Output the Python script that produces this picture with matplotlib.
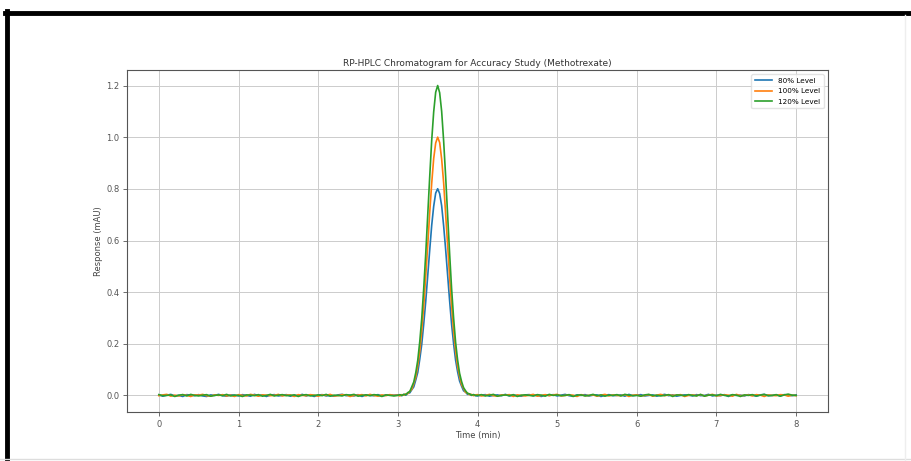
import numpy as np
import matplotlib
matplotlib.use('Agg')
import matplotlib.pyplot as plt
from matplotlib.lines import Line2D

# sampling times (min): 0.05 min on the baseline, 0.025 min across the peak
time_min = np.round(np.concatenate([np.linspace(0, 3, 61),
                                    np.linspace(3.025, 3.975, 39),
                                    np.linspace(4, 8, 81)]), 3)

series_names = ['80% Level', '100% Level', '120% Level']

level_80 = [
    # 0 - 3 min
    0.002, -0.003, 0.001, 0.004, -0.002, 0.000, -0.004, 0.003, 0.001, -0.001,
    0.003, -0.002, -0.004, 0.002, 0.000, 0.004, -0.001, -0.003, 0.002, 0.001,
    -0.002, 0.003, 0.000, -0.003, 0.004, -0.001, 0.002, -0.004, 0.001, 0.003,
    -0.002, 0.000, 0.003, -0.003, 0.001, -0.001, 0.004, -0.002, 0.002, -0.004,
    0.001, 0.003, -0.002, 0.000, -0.003, 0.002, 0.004, -0.001, 0.001, -0.002,
    0.003, -0.004, 0.002, 0.000, -0.001, 0.003, -0.002, 0.001, 0.002, 0.001,
    0.002,
    # peak 3.025 - 3.975 min
    0.002, -0.001, 0.004, 0.001, 0.008, 0.010, 0.022, 0.033, 0.060, 0.089,
    0.140, 0.198, 0.277, 0.364, 0.466, 0.563, 0.659, 0.733, 0.784,
    0.801,
    0.782, 0.735, 0.657, 0.566, 0.464, 0.367, 0.275, 0.201, 0.137, 0.092,
    0.056, 0.036, 0.018, 0.013, 0.004, 0.005, 0.000, 0.003, -0.001,
    # 4 - 8 min
    -0.002, 0.001, 0.003, -0.003, 0.000, 0.002, -0.001, 0.004, -0.002, 0.001,
    0.000, -0.003, 0.002, 0.003, -0.001, 0.001, -0.004, 0.002, 0.000, 0.003,
    -0.002, 0.001, 0.004, -0.001, -0.003, 0.002, 0.000, 0.003, -0.002, 0.001,
    0.002, -0.004, 0.001, 0.003, -0.001, 0.000, 0.002, -0.003, 0.004, -0.001,
    0.001, 0.003, -0.002, 0.000, 0.002, -0.003, 0.001, 0.004, -0.001, 0.002,
    -0.003, 0.000, 0.002, 0.001, -0.002, 0.003, -0.001, 0.000, 0.004, -0.002,
    0.001, -0.001, 0.003, -0.004, 0.002, 0.000, 0.001, -0.002, 0.003, 0.001,
    -0.003, 0.002, 0.004, -0.001, 0.000, 0.002, -0.002, 0.003, 0.001, -0.001,
    0.002,
]

level_100 = [
    # 0 - 3 min
    -0.001, 0.002, 0.004, -0.003, 0.001, -0.002, 0.003, 0.000, -0.004, 0.002,
    0.001, 0.004, -0.001, -0.003, 0.002, 0.000, 0.003, -0.002, 0.001, -0.004,
    0.003, 0.000, -0.002, 0.004, 0.001, -0.003, 0.002, 0.001, -0.001, 0.000,
    0.004, -0.002, 0.001, 0.002, -0.004, 0.003, 0.000, -0.001, 0.003, 0.001,
    -0.003, 0.002, 0.000, 0.004, -0.002, -0.001, 0.003, 0.002, -0.004, 0.000,
    0.001, 0.003, -0.002, 0.004, 0.000, -0.003, 0.002, -0.001, 0.003, 0.000,
    0.001,
    # peak 3.025 - 3.975 min
    -0.002, 0.003, 0.001, 0.006, 0.007, 0.016, 0.024, 0.046, 0.071, 0.116,
    0.170, 0.251, 0.344, 0.459, 0.580, 0.708, 0.822, 0.918, 0.978,
    1.001,
    0.980, 0.916, 0.824, 0.706, 0.582, 0.457, 0.346, 0.248, 0.173, 0.113,
    0.074, 0.042, 0.027, 0.012, 0.009, 0.003, 0.004, -0.001, 0.002,
    # 4 - 8 min
    0.003, -0.002, 0.000, 0.004, -0.001, -0.003, 0.002, 0.001, 0.003, -0.004,
    0.002, 0.000, -0.002, 0.001, 0.004, -0.003, 0.000, 0.003, -0.001, 0.002,
    0.004, -0.002, 0.000, 0.002, 0.001, -0.004, 0.003, -0.001, 0.000, 0.002,
    -0.003, 0.001, 0.004, -0.002, 0.002, 0.000, -0.001, 0.003, -0.004, 0.001,
    0.002, -0.002, 0.000, 0.003, -0.003, 0.001, 0.004, -0.001, 0.002, 0.000,
    0.001, 0.003, -0.004, 0.000, 0.002, -0.001, 0.003, -0.002, 0.001, 0.004,
    -0.002, 0.000, 0.002, 0.001, -0.003, 0.004, -0.001, 0.000, 0.002, -0.002,
    0.003, 0.001, -0.004, 0.002, 0.000, -0.001, 0.003, 0.002, -0.003, 0.001,
    -0.001,
]

level_120 = [
    # 0 - 3 min
    0.003, -0.001, 0.000, 0.002, -0.004, 0.001, 0.003, -0.002, 0.004, 0.000,
    -0.002, 0.001, 0.003, -0.003, 0.000, 0.002, -0.001, 0.004, -0.002, 0.001,
    0.000, -0.004, 0.002, 0.001, -0.001, 0.003, -0.003, 0.000, 0.004, -0.002,
    0.001, 0.003, -0.001, 0.000, 0.002, -0.004, 0.001, 0.003, -0.002, 0.000,
    0.002, -0.001, 0.004, -0.003, 0.001, 0.000, -0.002, 0.003, 0.001, 0.004,
    -0.003, 0.000, 0.002, -0.001, 0.003, 0.001, -0.004, 0.002, 0.000, -0.002,
    0.000,
    # peak 3.025 - 3.975 min
    0.003, 0.000, 0.004, 0.003, 0.011, 0.015, 0.033, 0.052, 0.088, 0.136,
    0.208, 0.298, 0.415, 0.548, 0.699, 0.847, 0.988, 1.099, 1.175,
    1.201,
    1.173, 1.101, 0.986, 0.849, 0.697, 0.550, 0.413, 0.300, 0.206, 0.138,
    0.086, 0.054, 0.030, 0.018, 0.008, 0.006, 0.001, 0.003, 0.000,
    # 4 - 8 min
    0.000, 0.003, -0.002, 0.001, 0.004, -0.003, 0.000, 0.002, -0.001, 0.003,
    -0.004, 0.001, 0.002, 0.000, -0.002, 0.003, 0.001, -0.003, 0.004, 0.000,
    0.002, -0.001, 0.000, 0.003, -0.004, 0.001, 0.002, -0.002, 0.000, 0.004,
    -0.001, 0.002, -0.003, 0.001, 0.000, 0.003, -0.002, 0.004, 0.001, -0.001,
    0.000, -0.003, 0.002, 0.004, -0.001, 0.001, -0.002, 0.000, 0.003, -0.004,
    0.002, 0.001, -0.001, 0.003, 0.000, -0.002, 0.004, -0.003, 0.001, 0.002,
    -0.001, 0.004, 0.000, -0.002, 0.003, 0.001, -0.004, 0.002, 0.000, 0.003,
    -0.002, 0.001, 0.004, -0.001, 0.000, 0.003, -0.003, 0.002, 0.005, 0.001,
    0.000,
]

fig = plt.figure(figsize=(9.11, 4.61), dpi=100)
ax = fig.add_axes([0.1394, 0.1063, 0.7695, 0.7419])

for name, vals, c in zip(series_names, [level_80, level_100, level_120],
                         ['#1f77b4', '#ff7f0e', '#2ca02c']):
    ax.plot(time_min, vals, color=c, linewidth=1.2, label=name)

ax.set_title('RP-HPLC Chromatogram for Accuracy Study (Methotrexate)',
             fontsize=6.5, color='#333333', pad=3)
ax.set_xlabel('Time (min)', fontsize=6, color='#444444', labelpad=1.5)
ax.set_ylabel('Response (mAU)', fontsize=6, color='#444444', labelpad=2)
ax.tick_params(labelsize=6, colors='#555555', length=3, width=0.6, pad=2.5)
ax.grid(True, color='#cccccc', linewidth=0.7)
for s in ax.spines.values():
    s.set_color('#555555')
    s.set_linewidth(0.8)
leg = ax.legend(loc='upper right', fontsize=5.2, frameon=True,
                handlelength=2.4, borderpad=0.5, labelspacing=0.6,
                borderaxespad=0.6)
leg.get_frame().set_edgecolor('#dddddd')

# black screenshot border
fig.add_artist(Line2D([5 / 911, 1.0], [1 - 13 / 461, 1 - 13 / 461],
                      color='black', linewidth=3.5, transform=fig.transFigure))
fig.add_artist(Line2D([7 / 911, 7 / 911], [0, 1 - 11 / 461],
                      color='black', linewidth=3.5, transform=fig.transFigure))
fig.add_artist(Line2D([0, 1], [2 / 461, 2 / 461],
                      color='#dddddd', linewidth=1, transform=fig.transFigure))
fig.add_artist(Line2D([905 / 911, 905 / 911], [0, 1 - 15 / 461],
                      color='#eeeeee', linewidth=1, transform=fig.transFigure))

fig.savefig('out.png', dpi=100)
